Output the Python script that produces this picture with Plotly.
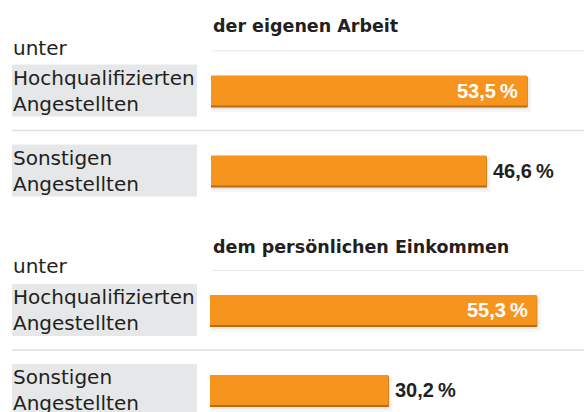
import plotly.graph_objects as go

# ---------------- data ----------------
section_titles = ["der eigenen Arbeit", "dem persönlichen Einkommen"]
subheading = "unter"
groups = ["Hochqualifizierten<br>Angestellten", "Sonstigen<br>Angestellten"]
values_arbeit = [53.5, 46.6]
values_einkommen = [55.3, 30.2]
label_inside = [True, False]   # style: value label inside the bar?

# ---------------- styling ----------------
W, H = 584, 412
ORANGE = "#F7941D"
EDGE = "#B86C12"
TEXT = "#231F20"
BOX = "#E6E7E8"
RULE = "#DDDEDF"
CAT_PX = 80.0          # px per category
BAR_PX = 30.0          # bar thickness px
PX_PER_PCT = 5.91      # px per percent


def py(p):
    return 1 - p / H


def px(p):
    return p / W


fig = go.Figure()

sections = [
    dict(vals=values_arbeit, top=50.5, left=211, title_c=26, unter_c=48),
    dict(vals=values_einkommen, top=270.0, left=210, title_c=247, unter_c=266),
]

annotations = []
shapes = []
for i, sec in enumerate(sections):
    sfx = "" if i == 0 else str(i + 1)
    xa, ya = "x" + sfx, "y" + sfx
    vals = sec["vals"]
    half = BAR_PX / 2 / CAT_PX
    # soft shadow
    fig.add_trace(go.Bar(
        x=vals, y=groups, orientation="h", xaxis=xa, yaxis=ya,
        marker=dict(color="rgba(0,0,0,0.05)", line=dict(color="rgba(0,0,0,0.04)", width=5)),
        width=BAR_PX / CAT_PX, offset=-half + 4 / CAT_PX, base=0.25,
        hoverinfo="skip", showlegend=False))
    # darker bottom/right edge
    fig.add_trace(go.Bar(
        x=vals, y=groups, orientation="h", xaxis=xa, yaxis=ya,
        marker=dict(color=EDGE, line=dict(color=EDGE, width=1)),
        width=BAR_PX / CAT_PX, offset=-half + 1.5 / CAT_PX,
        hoverinfo="skip", showlegend=False))
    # main bar
    fig.add_trace(go.Bar(
        x=vals, y=groups, orientation="h", xaxis=xa, yaxis=ya,
        marker=dict(color=ORANGE, line=dict(width=0)),
        width=BAR_PX / CAT_PX, offset=-half,
        hoverinfo="skip", showlegend=False))

    # axes
    bottom_val = (H - sec["top"]) / CAT_PX - 0.5 if i == 1 else 1.5
    bottom_px = sec["top"] + (bottom_val + 0.5) * CAT_PX
    fig.layout["xaxis" + sfx] = dict(
        domain=[px(sec["left"]), 1], range=[0, (W - sec["left"]) / PX_PER_PCT],
        visible=False, fixedrange=True, anchor=ya)
    fig.layout["yaxis" + sfx] = dict(
        domain=[max(0, py(bottom_px)), py(sec["top"])], range=[bottom_val, -0.5],
        type="category", categoryarray=groups, visible=False, fixedrange=True, anchor=xa)

    # section title & subheading
    annotations.append(dict(
        text=section_titles[i], xref="paper", yref="paper", x=px(211), y=py(sec["title_c"]),
        xanchor="left", yanchor="middle", showarrow=False,
        font=dict(family="DejaVu Sans", size=17.5, color=TEXT, weight="bold")))
    annotations.append(dict(
        text=subheading, xref="paper", yref="paper", x=px(11), y=py(sec["unter_c"]),
        xanchor="left", yanchor="middle", showarrow=False,
        font=dict(family="DejaVu Sans", size=20, color=TEXT)))

    # rules
    shapes.append(dict(type="line", xref="paper", yref=ya, x0=px(212), x1=1, y0=-0.5, y1=-0.5,
                       line=dict(color=RULE, width=1.5), layer="below"))
    shapes.append(dict(type="line", xref="paper", yref=ya, x0=px(12), x1=1, y0=0.5, y1=0.5,
                       line=dict(color=RULE, width=1.5), layer="below"))

    for j, g in enumerate(groups):
        # grey label box
        shapes.append(dict(type="rect", xref="paper", yref=ya, x0=px(12), x1=px(197),
                           y0=j - 26 / CAT_PX, y1=j + 26 / CAT_PX,
                           fillcolor=BOX, line=dict(width=0), layer="below"))
        annotations.append(dict(
            text=g, xref="paper", yref=ya, x=px(11), y=j, xanchor="left", yanchor="middle",
            align="left", showarrow=False,
            font=dict(family="DejaVu Sans", size=20, color=TEXT)))
        # value label
        lab = f"{vals[j]:.1f}".replace(".", ",") + "\u2009%"
        inside = label_inside[j]
        annotations.append(dict(
            text=lab, xref=xa, yref=ya, x=vals[j], y=j,
            xanchor="right" if inside else "left", yanchor="middle",
            xshift=-7 if inside else 5, showarrow=False,
            font=dict(family="Liberation Sans", size=20,
                      color="white" if inside else TEXT, weight="bold")))

fig.update_layout(
    width=W, height=H, margin=dict(l=0, r=0, t=0, b=0),
    paper_bgcolor="white", plot_bgcolor="rgba(0,0,0,0)",
    barmode="overlay", showlegend=False, hovermode=False,
    annotations=annotations, shapes=shapes,
)

fig.write_html(
    "out.html",
    config={"displayModeBar": False},
    post_script="document.body.style.margin='0';document.body.style.overflow='hidden';",
)
